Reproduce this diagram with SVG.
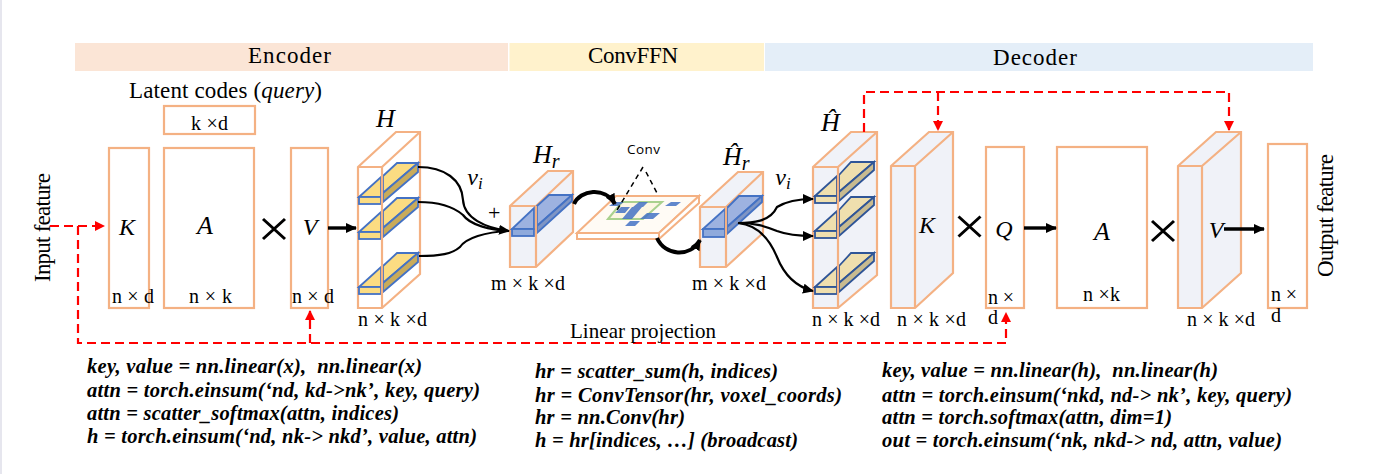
<svg xmlns="http://www.w3.org/2000/svg" xmlns:xlink="http://www.w3.org/1999/xlink" width="1392" height="474" viewBox="0 0 1392 474">
<style>
text{font-family:"Liberation Serif",serif;fill:#000}
.t{font-size:23px}
.d{font-size:20px}
.v{font-size:24px;font-style:italic;text-anchor:middle}
.m{font-size:26px;font-style:italic}
.c{font-size:20.500px;font-weight:bold;font-style:italic;white-space:pre}
.o{fill:none;stroke:#f4b183;stroke-width:2.2}
.of{fill:#f0f2f8;stroke:#f4b183;stroke-width:2.2}
.r{fill:none;stroke:#f00;stroke-width:2.2;stroke-dasharray:9 5}
.b{fill:none;stroke:#000;stroke-width:2.2}
.bt{fill:none;stroke:#000;stroke-width:3.4}
.bb{fill:none;stroke:#000;stroke-width:4}
.x{fill:none;stroke:#000;stroke-width:3}
.sl{fill:#9db2e0;stroke:#4472c4;stroke-width:1.8}
.sd{fill:#7f95c4;stroke:#4472c4;stroke-width:1.8}
.sf{fill:#8faadc;stroke:#4472c4;stroke-width:1.8}
</style>
<defs>
<marker id="ra" markerUnits="userSpaceOnUse" markerWidth="10" markerHeight="10" refX="9" refY="5" orient="auto"><path d="M0 0L10 5L0 10z" fill="#f00"/></marker>
<marker id="ka" markerUnits="userSpaceOnUse" markerWidth="11" markerHeight="10" refX="10" refY="5" orient="auto"><path d="M0 0L11 5L0 10z" fill="#000"/></marker>
<g id="ly"><path d="M359 197L381 177V197Z" fill="#fbdc82" stroke="#4472c4" stroke-width="1.800"/><path d="M383 176L397 163H418L383 193Z" fill="#fbdc82" stroke="#4472c4" stroke-width="1.800"/><path d="M383 193L418 163V172L383 202Z" fill="#c9ab5a" stroke="#4472c4" stroke-width="1.800"/><rect x="359" y="197" width="22" height="7" fill="#fbdc82" stroke="#4472c4" stroke-width="1.800"/></g>
<g id="ld"><path d="M815 196L837 176V196Z" fill="#efdfae" stroke="#2f5597" stroke-width="1.800"/><path d="M839 175L851 162H874L839 192Z" fill="#efdfae" stroke="#2f5597" stroke-width="1.800"/><path d="M839 192L874 162V170L839 201Z" fill="#c8bb90" stroke="#2f5597" stroke-width="1.800"/><rect x="815" y="196" width="22" height="7" fill="#efdfae" stroke="#2f5597" stroke-width="1.800"/></g>
<g id="mul"><path d="M-11 -10L11 10M11 -10L-11 10" class="x"/></g>
</defs>
<rect x="0" y="0" width="1392" height="474" fill="#fff"/>
<rect x="0" y="0" width="2" height="474" fill="#e6e6ee"/>
<g id="band-encoder"><rect x="75" y="43" width="433" height="28" fill="#fbe5d6"/><text x="248" y="63" class="t" textLength="83">Encoder</text></g>
<g id="band-convffn"><rect x="509.500" y="43" width="254.500" height="28" fill="#fff2cc"/><text x="588" y="63" class="t" textLength="90">ConvFFN</text></g>
<g id="band-decoder"><rect x="765" y="43" width="548" height="28" fill="#e4eef8"/><text x="993" y="65" class="t" textLength="84">Decoder</text></g>

<g id="label-latent"><text x="129" y="98" class="t" textLength="193">Latent codes (<tspan font-style="italic">query</tspan>)</text></g>
<g id="label-input"><text transform="translate(50 282) rotate(-90)" class="t" textLength="109">Input feature</text></g>
<g id="label-output"><text transform="translate(1333 277) rotate(-90)" class="t" textLength="123">Output feature</text></g>

<g id="enc-K"><rect x="109" y="148" width="40" height="160" class="o"/><text x="127" y="235" class="v">K</text><text x="112" y="303" class="d" textLength="42">n × d</text></g>
<g id="enc-Q"><rect x="164" y="106" width="91" height="28" class="o"/><text x="191" y="130" class="d" textLength="37">k ×d</text></g>
<g id="enc-A"><rect x="164" y="148" width="90" height="160" class="o"/><text x="205" y="234" class="v" style="font-size:26px">A</text><text x="189" y="303" class="d" textLength="43">n × k</text></g>
<g id="enc-mul"><use xlink:href="#mul" x="274" y="229"/></g>
<g id="enc-V"><rect x="291" y="148" width="37" height="160" class="o"/><text x="310" y="235" class="v">V</text><text x="292" y="303" class="d" textLength="42">n × d</text></g>

<g id="enc-H">
<path d="M358 167L396 132H420V274L382 308H358Z" class="o"/><path d="M358 167H382L420 132" class="o"/>
<use xlink:href="#ly"/><use xlink:href="#ly" y="35"/><use xlink:href="#ly" y="90"/>
<path d="M382 167V308" class="o"/>
<text x="376" y="127" class="m">H</text><text x="358" y="326" class="d" textLength="69">n × k ×d</text>
</g>

<g id="Hr">
<path d="M510 206L548 171H573V232L536 267H510Z" class="of"/><path d="M510 206H536L573 171" class="o"/>
<path d="M512 229L534 208V229Z" class="sl"/><path d="M537 206L549 195H572L537 226Z" class="sl"/><path d="M537 226L572 195V201L537 233Z" class="sd"/><rect x="512" y="229" width="22" height="7" class="sf"/>
<path d="M536 206V267" class="o"/>
<text x="533" y="163" class="m">H<tspan dy="5" font-size="20">r</tspan></text><text x="491" y="290" class="d" textLength="74">m × k ×d</text>
</g>

<g id="conv-plane">
<path d="M577 233L616 196H699L659 233Z" fill="#fffbf5" stroke="#f4b183" stroke-width="2"/><path d="M577 233H659V239H577ZM659 233L699 196V203L659 239Z" fill="#fff" stroke="#f4b183" stroke-width="2"/>
<path d="M608 219L622 202H662L643 219Z" fill="#fdf6e3" stroke="#a9d18e" stroke-width="2"/>
<path fill="#4472c4" opacity=".85" d="M609 206L615 202H624L618 206ZM665 206L671 202H681L676 206ZM615 213L621 207H630L625 213ZM627 213L632 207H642L637 213ZM633 207L639 202H648L643 207ZM622 219L627 213H637L632 219ZM640 219L647 213H660L653 219ZM625 226L630 221H640L635 226Z"/>
<path d="M643 167L617 210M646 172L658 195" fill="none" stroke="#000" stroke-width="1.500" stroke-dasharray="5 4"/>
<text x="627" y="154" style="font-family:'Open Sans','DejaVu Sans',sans-serif;font-size:13.500px" textLength="33">Conv</text>
</g>

<g id="Hhr">
<path d="M700 207L738 172H763V233L726 267H700Z" class="of"/><path d="M700 207H726L763 172" class="o"/>
<path d="M703 229L725 209V229Z" class="sl"/><path d="M727 208L739 196H762L727 227Z" class="sl"/><path d="M727 227L762 196V202L727 234Z" class="sd"/><rect x="703" y="229" width="22" height="8" class="sf"/>
<path d="M726 207V267" class="o"/>
<text x="723" y="165" class="m">Ĥ<tspan dy="5" font-size="20">r</tspan></text><text x="692" y="290" class="d" textLength="74">m × k ×d</text>
</g>

<g id="dec-H">
<path d="M813 167L851 132H877V275L838 308H813Z" class="of"/><path d="M813 167H838L877 132" class="o"/>
<use xlink:href="#ld"/><use xlink:href="#ld" y="35"/><use xlink:href="#ld" y="91"/>
<path d="M838 167V308" class="o"/>
<text x="821" y="131" class="m">Ĥ</text><text x="812" y="326" class="d" textLength="68">n × k ×d</text>
</g>

<g id="dec-K"><path d="M891 166L929 132H953V273L915 308H891Z" fill="#f0f2f8" stroke="#f4b183" stroke-width="2.200"/><path d="M891 166H915L953 132M915 166V308" class="o"/><text x="927" y="233" class="v">K</text><text x="897" y="326" class="d" textLength="69">n × k ×d</text></g>
<g id="dec-mul1"><use xlink:href="#mul" x="969.500" y="226.500"/></g>
<g id="dec-Q"><rect x="986" y="147" width="38" height="161" class="o"/><text x="1004" y="237" class="v">Q</text><text x="988" y="304" class="d" textLength="26">n ×</text><text x="988" y="324" class="d">d</text></g>
<g id="dec-A"><rect x="1057" y="147" width="90" height="161" class="o"/><text x="1102" y="240" class="v" style="font-size:26px">A</text><text x="1083" y="301" class="d" textLength="37">n ×k</text></g>
<g id="dec-mul2"><use xlink:href="#mul" x="1163" y="231"/></g>
<g id="dec-V"><path d="M1178 166L1216 132H1241V273L1202 308H1178Z" fill="#f0f2f8" stroke="#f4b183" stroke-width="2.200"/><path d="M1178 166H1202L1241 132M1202 166V308" class="o"/><text x="1216" y="238" class="v">V</text><text x="1187" y="326" class="d" textLength="68">n × k ×d</text></g>
<g id="dec-out"><rect x="1268" y="144" width="39" height="164" class="o"/><text x="1271" y="301" class="d" textLength="26">n ×</text><text x="1271" y="322" class="d">d</text></g>

<g id="connectors">
<path d="M50 226H104" class="r" marker-end="url(#ra)"/>
<path d="M78 226V343H1006V313" class="r" marker-end="url(#ra)"/>
<path d="M310 343V311" class="r" marker-end="url(#ra)"/>
<path d="M864 132V92H1229V130" class="r" marker-end="url(#ra)"/>
<path d="M938 92V130" class="r" marker-end="url(#ra)"/>
<path d="M328 228H356" class="bt" marker-end="url(#ka)"/>
<path d="M1024 228H1056" class="bt" marker-end="url(#ka)"/>
<path d="M1224 229H1264" class="bt" marker-end="url(#ka)"/>
<path d="M418 167C445 167 462 180 463 200C464 218 485 228 509 231" class="b" marker-end="url(#ka)"/>
<path d="M418 202C440 202 455 208 463 215C470 225 490 230 509 231" class="b"/>
<path d="M419 256C440 256 452 254 460 247C466 238 485 232 509 231" class="b"/>
<path d="M574 204C580 190 605 186 615 204" class="bb" marker-end="url(#ka)"/>
<path d="M657 238C665 256 690 258 700 240" class="bb" marker-end="url(#ka)"/>
<path d="M738 223C752 223 770 222 777 207C785 202 795 199 813 199" class="b" marker-end="url(#ka)"/>
<path d="M738 223C755 223 765 226 777 231C785 234 795 236 813 236" class="b" marker-end="url(#ka)"/>
<path d="M738 223C758 225 770 240 777 257C783 272 793 286 813 291" class="b" marker-end="url(#ka)"/>
</g>
<g id="labels">
<text x="475" y="185" class="v">v<tspan dy="4" font-size="17">i</tspan></text>
<text x="488" y="220" style="font-size:22px">+</text>
<text x="783" y="185" class="v">v<tspan dy="4" font-size="17">i</tspan></text>
<text x="570" y="338" style="font-size:21px" textLength="146">Linear projection</text>
</g>
<g id="code-encoder">
<text x="87" y="373" class="c" textLength="335">key, value = nn.linear(x),  nn.linear(x)</text>
<text x="87" y="397" class="c" textLength="393">attn = torch.einsum(‘nd, kd-&gt;nk’, key, query)</text>
<text x="87" y="420" class="c" textLength="312">attn = scatter_softmax(attn, indices)</text>
<text x="87" y="443" class="c" textLength="390">h = torch.einsum(‘nd, nk-&gt; nkd’, value, attn)</text>
</g>
<g id="code-conv">
<text x="535" y="378" class="c" textLength="243">hr = scatter_sum(h, indices)</text>
<text x="535" y="402" class="c" textLength="307">hr = ConvTensor(hr, voxel_coords)</text>
<text x="535" y="424" class="c" textLength="150">hr = nn.Conv(hr)</text>
<text x="535" y="447" class="c" textLength="263">h = hr[indices, …] (broadcast)</text>
</g>
<g id="code-decoder">
<text x="882" y="377" class="c" textLength="336">key, value = nn.linear(h),  nn.linear(h)</text>
<text x="882" y="402" class="c" textLength="410">attn = torch.einsum(‘nkd, nd-&gt; nk’, key, query)</text>
<text x="882" y="424" class="c" textLength="290">attn = torch.softmax(attn, dim=1)</text>
<text x="882" y="447" class="c" textLength="400">out = torch.einsum(‘nk, nkd-&gt; nd, attn, value)</text>
</g>
</svg>
